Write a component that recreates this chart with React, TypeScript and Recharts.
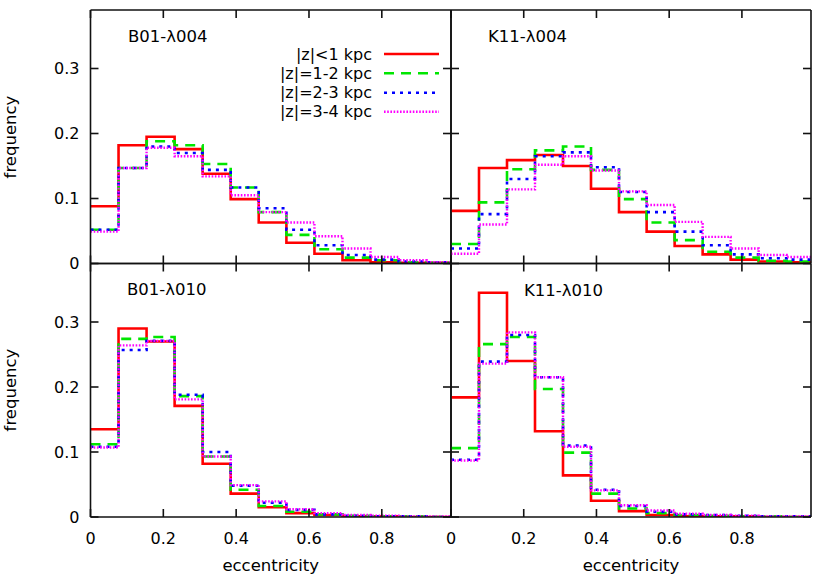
import React from 'react';
import { LineChart, Line, XAxis, YAxis, Legend } from 'recharts';

// Bin edges of the eccentricity histogram (13 bins)
const BIN_EDGES = [0, 0.077, 0.154, 0.231, 0.308, 0.385, 0.462, 0.538, 0.615, 0.692, 0.769, 0.846, 0.923, 1.0];
const SERIES_NAMES = ['|z|<1 kpc', '|z|=1-2 kpc', '|z|=2-3 kpc', '|z|=3-4 kpc'];
const X_TICKS = [0, 0.2, 0.4, 0.6, 0.8];
const Y_TICKS = [0, 0.1, 0.2, 0.3];
const PANEL_TITLES = ['B01-λ004', 'K11-λ004', 'B01-λ010', 'K11-λ010'];
const X_LABEL = 'eccentricity';
const Y_LABEL = 'frequency';

// B01-λ004
const b004_z01 = [0.088, 0.182, 0.195, 0.176, 0.138, 0.099, 0.063, 0.032, 0.015, 0.005, 0.002, 0.001, 0.001];
const b004_z12 = [0.052, 0.147, 0.188, 0.182, 0.153, 0.117, 0.079, 0.044, 0.022, 0.009, 0.005, 0.002, 0.001];
const b004_z23 = [0.052, 0.147, 0.180, 0.170, 0.144, 0.117, 0.085, 0.052, 0.028, 0.013, 0.006, 0.003, 0.002];
const b004_z34 = [0.049, 0.147, 0.178, 0.165, 0.134, 0.105, 0.079, 0.063, 0.042, 0.023, 0.010, 0.005, 0.002];
// K11-λ004
const k004_z01 = [0.081, 0.147, 0.159, 0.167, 0.150, 0.115, 0.079, 0.049, 0.027, 0.014, 0.006, 0.003, 0.002];
const k004_z12 = [0.030, 0.094, 0.145, 0.174, 0.180, 0.144, 0.099, 0.063, 0.036, 0.018, 0.009, 0.004, 0.003];
const k004_z23 = [0.023, 0.076, 0.130, 0.165, 0.171, 0.148, 0.110, 0.079, 0.049, 0.028, 0.014, 0.008, 0.006];
const k004_z34 = [0.015, 0.060, 0.114, 0.152, 0.165, 0.143, 0.111, 0.090, 0.064, 0.041, 0.023, 0.013, 0.010];
// B01-λ010
const b010_z01 = [0.135, 0.290, 0.270, 0.171, 0.082, 0.036, 0.015, 0.006, 0.003, 0.001, 0.001, 0.0, 0.0];
const b010_z12 = [0.112, 0.274, 0.277, 0.186, 0.093, 0.042, 0.017, 0.008, 0.004, 0.002, 0.001, 0.001, 0.0];
const b010_z23 = [0.108, 0.257, 0.271, 0.188, 0.100, 0.048, 0.022, 0.011, 0.004, 0.002, 0.001, 0.001, 0.0];
const b010_z34 = [0.107, 0.264, 0.271, 0.181, 0.093, 0.049, 0.024, 0.012, 0.006, 0.003, 0.002, 0.001, 0.001];
// K11-λ010
const k010_z01 = [0.184, 0.345, 0.240, 0.132, 0.064, 0.025, 0.009, 0.003, 0.001, 0.001, 0.001, 0.0, 0.0];
const k010_z12 = [0.106, 0.266, 0.277, 0.197, 0.099, 0.036, 0.013, 0.006, 0.003, 0.002, 0.001, 0.001, 0.0];
const k010_z23 = [0.088, 0.239, 0.280, 0.215, 0.110, 0.042, 0.017, 0.008, 0.004, 0.003, 0.002, 0.001, 0.001];
const k010_z34 = [0.087, 0.236, 0.284, 0.215, 0.108, 0.041, 0.018, 0.010, 0.005, 0.003, 0.002, 0.001, 0.001];

const FONT = "'DejaVu Sans', sans-serif";
const FS = 16;
const TICK = 8;
const AXIS_STROKE = { stroke: '#111', strokeWidth: 1.6 };

const STYLES = [
  { key: 'z01', color: '#ff0000', dash: undefined as string | undefined, width: 2.6 },
  { key: 'z12', color: '#00e600', dash: '10 7', width: 2.6 },
  { key: 'z23', color: '#0000ff', dash: '3 5', width: 2.6 },
  { key: 'z34', color: '#ff00ff', dash: '1.6 1.6', width: 2.4 },
];

function buildRows(series: number[][]) {
  return BIN_EDGES.map((x, i) => {
    const row: Record<string, number> = { x };
    STYLES.forEach((s, k) => {
      row[s.key] = series[k][Math.min(i, series[k].length - 1)];
    });
    return row;
  });
}

// margins are 1px smaller than the plot edges, the axes themselves take 1px
const PANELS = [
  { title: PANEL_TITLES[0], rows: buildRows([b004_z01, b004_z12, b004_z23, b004_z34]), margin: { left: 89.5, right: 378, top: 9, bottom: 315.5 }, showX: false, showY: true, legend: true },
  { title: PANEL_TITLES[1], rows: buildRows([k004_z01, k004_z12, k004_z23, k004_z34]), margin: { left: 450, right: 18, top: 9, bottom: 315.5 }, showX: false, showY: false, legend: false },
  { title: PANEL_TITLES[2], rows: buildRows([b010_z01, b010_z12, b010_z23, b010_z34]), margin: { left: 89.5, right: 378, top: 262.5, bottom: 62 }, showX: true, showY: true, legend: false },
  { title: PANEL_TITLES[3], rows: buildRows([k010_z01, k010_z12, k010_z23, k010_z34]), margin: { left: 450, right: 18, top: 262.5, bottom: 62 }, showX: true, showY: false, legend: false },
];

const makeBottomTick = (showLabel: boolean) => (props: any) => {
  const { x, y, payload } = props;
  return (
    <g>
      <line x1={x} y1={y} x2={x} y2={y - TICK} {...AXIS_STROKE} />
      {showLabel && (
        <text x={x} y={y + 27} textAnchor="middle" fontSize={FS} fontFamily={FONT} fill="#000">
          {String(payload.value)}
        </text>
      )}
    </g>
  );
};
const TopTick = (props: any) => {
  const { x, y } = props;
  return <line x1={x} y1={y} x2={x} y2={y + TICK} {...AXIS_STROKE} />;
};
const makeLeftTick = (showLabel: boolean) => (props: any) => {
  const { x, y, payload } = props;
  return (
    <g>
      <line x1={x} y1={y} x2={x + TICK} y2={y} {...AXIS_STROKE} />
      {showLabel && (
        <text x={x - 11} y={y} dy="0.36em" textAnchor="end" fontSize={FS} fontFamily={FONT} fill="#000">
          {String(payload.value)}
        </text>
      )}
    </g>
  );
};
const RightTick = (props: any) => {
  const { x, y } = props;
  return <line x1={x} y1={y} x2={x - TICK} y2={y} {...AXIS_STROKE} />;
};

const LegendContent = (props: any) => {
  const payload: any[] = props.payload || [];
  const items = STYLES.map((s, i) => {
    const p = payload.find((e) => e.dataKey === s.key);
    return { name: p ? p.value : SERIES_NAMES[i], color: p ? p.color : s.color, dash: s.dash, width: s.width };
  });
  const rowY = [12, 31.3, 50.7, 69.7];
  return (
    <svg width={190} height={80} style={{ overflow: 'visible' }}>
      {items.map((it, i) => (
        <g key={i}>
          <text x={112} y={rowY[i]} dy="0.36em" textAnchor="end" fontSize={FS} fontFamily={FONT} fill="#000">
            {it.name}
          </text>
          <line x1={124} x2={179} y1={rowY[i]} y2={rowY[i]} stroke={it.color} strokeWidth={it.width} strokeDasharray={it.dash} />
        </g>
      ))}
    </svg>
  );
};

function Panel(p: (typeof PANELS)[number]) {
  return (
    <div style={{ position: 'absolute', left: 0, top: 0 }}>
      <LineChart width={830} height={580} data={p.rows} margin={p.margin}>
        <XAxis xAxisId="b" dataKey="x" type="number" domain={[0, 0.99]} allowDataOverflow ticks={X_TICKS} interval={0}
          height={1} tickSize={0} tickMargin={0} tickLine={false} axisLine={AXIS_STROKE} tick={makeBottomTick(p.showX)} />
        <XAxis xAxisId="t" orientation="top" dataKey="x" type="number" domain={[0, 0.99]} allowDataOverflow ticks={X_TICKS} interval={0}
          height={1} tickSize={0} tickMargin={0} tickLine={false} axisLine={AXIS_STROKE} tick={TopTick} />
        <YAxis yAxisId="l" type="number" domain={[0, 0.39]} allowDataOverflow ticks={Y_TICKS} interval={0}
          width={1} tickSize={0} tickMargin={0} tickLine={false} axisLine={AXIS_STROKE} tick={makeLeftTick(p.showY)} />
        <YAxis yAxisId="r" orientation="right" type="number" domain={[0, 0.39]} allowDataOverflow ticks={Y_TICKS} interval={0}
          width={1} tickSize={0} tickMargin={0} tickLine={false} axisLine={AXIS_STROKE} tick={RightTick} />
        {STYLES.map((s, i) => (
          <Line key={s.key} xAxisId="b" yAxisId="l" type="stepAfter" dataKey={s.key} name={SERIES_NAMES[i]}
            stroke={s.color} strokeWidth={s.width} strokeDasharray={s.dash} dot={false} activeDot={false}
            isAnimationActive={false} />
        ))}
        {p.legend && (
          <Legend layout="horizontal" verticalAlign="middle" align="center" content={LegendContent}
            wrapperStyle={{ position: 'absolute', left: 260, top: 42, width: 190, height: 80 }} />
        )}
      </LineChart>
    </div>
  );
}

export default function App() {
  return (
    <div style={{ position: 'absolute', left: 0, top: 0, width: 830, height: 580, background: '#fff', overflow: 'hidden' }}>
      {PANELS.map((p, i) => (
        <Panel key={i} {...p} />
      ))}
      <svg width={830} height={580} style={{ position: 'absolute', left: 0, top: 0, pointerEvents: 'none' }}>
        <text x={128} y={41.7} fontSize={16.5} fontFamily={FONT} fill="#000">{PANEL_TITLES[0]}</text>
        <text x={488} y={41.7} fontSize={16.5} fontFamily={FONT} fill="#000">{PANEL_TITLES[1]}</text>
        <text x={127} y={295} fontSize={16.5} fontFamily={FONT} fill="#000">{PANEL_TITLES[2]}</text>
        <text x={524} y={295.5} fontSize={16.5} fontFamily={FONT} fill="#000">{PANEL_TITLES[3]}</text>
        <text transform="translate(16,137) rotate(-90)" textAnchor="middle" fontSize={16.5} fontFamily={FONT} fill="#000">{Y_LABEL}</text>
        <text transform="translate(16,390) rotate(-90)" textAnchor="middle" fontSize={16.5} fontFamily={FONT} fill="#000">{Y_LABEL}</text>
        <text x={270.7} y={570.5} textAnchor="middle" fontSize={16.5} fontFamily={FONT} fill="#000">{X_LABEL}</text>
        <text x={631} y={570.5} textAnchor="middle" fontSize={16.5} fontFamily={FONT} fill="#000">{X_LABEL}</text>
      </svg>
    </div>
  );
}
